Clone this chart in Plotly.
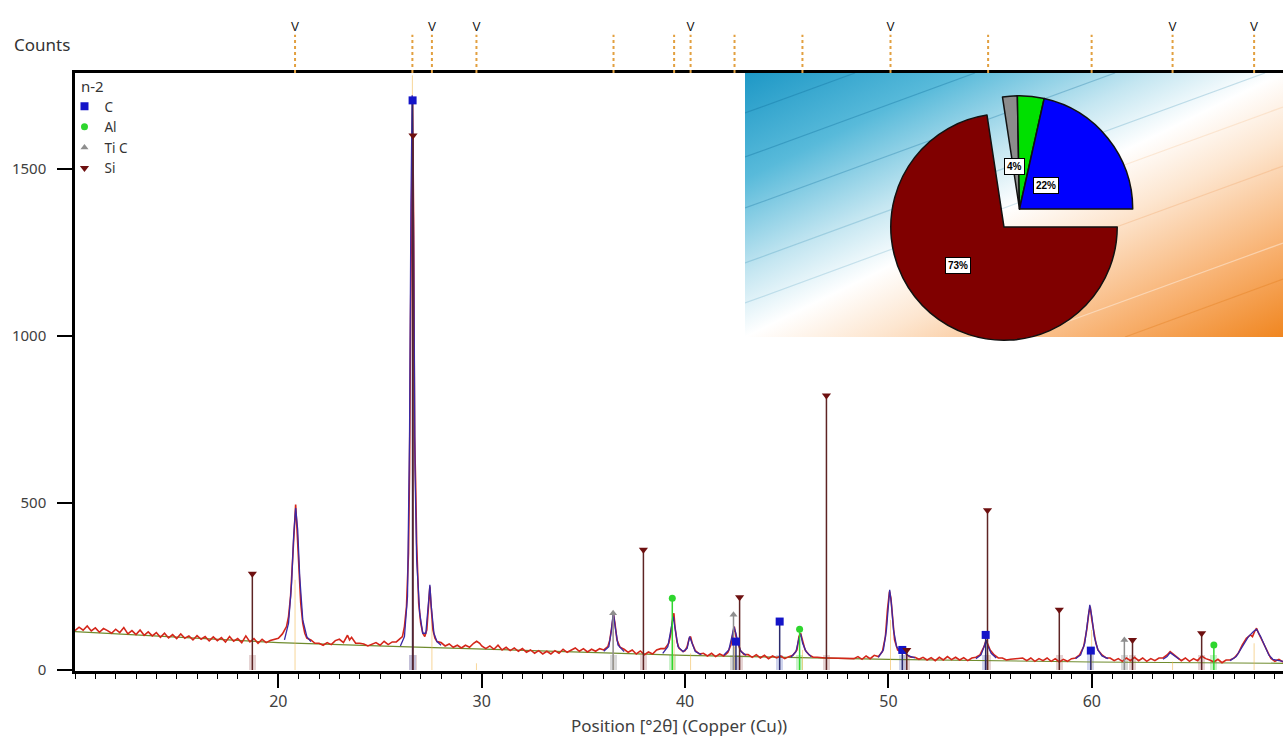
import base64
import math
import plotly.graph_objects as go

# ---------------- data ----------------
meas_pos = [10.0,10.2,10.4,10.6,10.8,11.0,11.2,11.4,11.6,11.8,12.0,12.2,12.4,12.6,12.8,13.0,13.2,13.4,13.6,13.8,
            14.0,14.2,14.4,14.6,14.8,15.0,15.2,15.4,15.6,15.8,16.0,16.2,16.4,16.6,16.8,17.0,17.2,17.4,17.6,17.8,
            18.0,18.2,18.4,18.6,18.8,19.0,19.2,19.4,19.6,19.8,20.0,20.2,20.4,20.5,20.6,20.7,20.8,20.85,20.9,21.0,
            21.1,21.2,21.3,21.4,21.6,21.8,22.0,22.2,22.4,22.6,22.8,23.0,23.2,23.4,23.5,23.6,23.8,24.0,24.2,24.4,
            24.6,24.8,25.0,25.2,25.4,25.6,25.8,26.0,26.1,26.2,26.3,26.4,26.45,26.5,26.55,26.6,26.65,26.7,26.75,26.8,
            26.9,27.0,27.1,27.2,27.3,27.4,27.45,27.5,27.6,27.7,27.8,28.0,28.2,28.4,28.6,28.8,29.0,29.2,29.4,29.6,
            29.75,29.9,30.0,30.2,30.4,30.6,30.8,31.0,31.2,31.4,31.6,31.8,32.0,32.2,32.4,32.6,32.8,33.0,33.2,33.4,
            33.6,33.8,34.0,34.2,34.4,34.6,34.8,35.0,35.2,35.4,35.6,35.8,36.0,36.2,36.3,36.4,36.48,36.55,36.65,36.8,
            37.0,37.2,37.4,37.6,37.8,38.0,38.2,38.4,38.6,38.8,39.0,39.2,39.3,39.4,39.45,39.5,39.6,39.7,39.9,40.0,
            40.1,40.2,40.27,40.35,40.5,40.7,40.9,41.1,41.3,41.5,41.7,41.9,42.1,42.25,42.35,42.42,42.5,42.6,42.7,42.9,
            43.1,43.3,43.5,43.7,43.9,44.1,44.3,44.5,44.7,44.9,45.1,45.3,45.5,45.6,45.68,45.8,45.9,46.1,46.3,46.5,
            46.7,46.9,47.1,47.3,47.5,47.7,47.9,48.1,48.3,48.5,48.7,48.9,49.1,49.3,49.5,49.7,49.85,49.95,50.05,50.12,
            50.2,50.3,50.45,50.6,50.75,50.9,51.1,51.3,51.5,51.7,51.9,52.1,52.3,52.5,52.7,52.9,53.1,53.3,53.5,53.7,
            53.9,54.1,54.3,54.5,54.7,54.8,54.9,55.0,55.2,55.4,55.6,55.8,56.0,56.2,56.4,56.6,56.8,57.0,57.2,57.4,
            57.6,57.8,58.0,58.2,58.4,58.6,58.8,59.0,59.2,59.4,59.6,59.75,59.85,59.92,60.0,60.1,60.2,60.3,60.5,60.7,
            60.9,61.1,61.3,61.5,61.7,61.9,62.1,62.3,62.5,62.7,62.9,63.1,63.3,63.5,63.7,63.85,64.0,64.2,64.4,64.6,
            64.8,65.0,65.2,65.4,65.6,65.8,66.0,66.2,66.4,66.6,66.8,67.0,67.2,67.4,67.6,67.8,67.9,68.0,68.1,68.2,
            68.4,68.6,68.8,69.0,69.2,69.4]
meas_counts = [118,128,119,132,117,126,113,124,118,110,122,112,127,108,118,106,120,104,114,102,
               112,98,110,96,106,94,108,95,102,90,103,92,100,87,99,88,97,84,100,86,
               94,82,102,84,94,80,92,82,88,92,95,108,130,160,220,330,470,495,440,320,
               200,140,110,95,90,80,80,74,82,76,88,92,82,104,90,98,80,80,78,72,
               78,82,74,86,76,84,84,94,100,130,190,350,600,1050,1500,1700,1350,700,560,380,
               200,140,110,100,120,200,250,200,120,95,85,82,72,78,68,74,66,74,68,80,
               86,80,72,64,72,62,74,60,68,58,66,56,64,53,60,50,58,48,56,48,
               58,50,62,53,60,66,56,64,54,62,56,64,60,70,90,140,165,140,90,68,
               62,53,60,48,57,46,54,48,60,64,64,80,110,160,170,130,85,65,55,58,
               70,95,100,80,58,48,50,42,50,40,48,42,52,75,115,130,100,85,60,46,
               46,38,46,36,44,34,42,36,42,34,40,44,60,100,110,80,60,45,38,38,
               36,36,36,36,34,34,34,35,34,40,32,42,34,44,40,55,100,180,235,215,
               150,90,60,55,58,45,38,38,32,38,30,37,28,38,30,40,31,38,30,37,
               28,36,38,45,70,90,75,60,45,36,36,30,32,34,34,36,28,36,26,34,
               28,36,26,34,24,32,26,34,36,45,70,120,170,190,150,110,80,60,45,36,
               36,28,34,26,36,28,38,28,36,26,34,28,36,36,45,55,48,36,28,36,
               26,34,28,42,34,30,24,32,22,30,30,36,50,75,95,105,100,115,125,110,
               85,55,35,26,32,24]

calc_pos = [20.3,20.5,20.65,20.75,20.85,20.95,21.05,21.2,21.4,21.6,None,
            26.0,26.2,26.35,26.45,26.52,26.58,26.65,26.72,26.8,26.95,27.1,27.25,27.38,27.45,27.52,27.65,27.8,28.0,None,
            36.0,36.25,36.38,36.47,36.56,36.7,37.0,None,
            38.9,39.15,39.3,39.42,39.52,39.65,39.9,40.1,40.22,40.32,40.5,40.8,None,
            41.9,42.15,42.3,42.4,42.5,42.6,42.75,43.0,None,
            45.2,45.45,45.6,45.68,45.78,45.95,46.2,None,
            49.5,49.75,49.9,50.0,50.06,50.14,50.25,50.4,50.6,50.8,51.0,51.3,None,
            54.3,54.55,54.7,54.8,54.9,55.05,55.3,None,
            59.2,59.45,59.65,59.8,59.9,60.0,60.12,60.3,60.5,60.8,None,
            63.5,63.7,63.85,64.0,64.3,None,
            66.8,67.1,67.4,67.7,67.95,68.1,68.3,68.5,68.7,68.9,69.2,69.4]
calc_counts = [90,140,260,400,485,420,280,150,100,85,None,
               72,100,220,700,1400,1720,1300,600,330,170,110,110,200,255,190,110,85,74,None,
               56,70,120,175,130,75,55,None,
               50,70,120,160,120,70,55,65,100,85,55,46,None,
               44,60,100,130,110,80,55,44,None,
               38,55,95,108,80,55,40,None,
               38,60,120,200,240,200,120,70,55,52,42,36,None,
               34,45,70,88,70,50,36,None,
               34,45,80,150,195,160,100,60,42,34,None,
               32,40,52,45,32,None,
               28,40,70,100,115,122,100,70,45,32,28,26]

bg_pos = [10.0, 20.0, 26.0, 30.0, 40.0, 50.0, 60.0, 69.4]
bg_counts = [115, 82, 70, 62, 44, 32, 24, 20]

# fitted peak list (top strip) and heights of fitted peaks
peak_pos = [20.82, 26.59, 27.55, 29.74, 36.48, 39.46, 40.27, 42.43, 45.77, 50.10, 54.90, 59.99, 63.97, 67.98]
peak_marked = [1, 0, 1, 1, 0, 0, 1, 0, 0, 1, 0, 0, 1, 1]
peak_heights = [270, 1780, 150, 20, 90, 90, 50, 70, 60, 150, 50, 120, 25, 80]

# reference patterns
c_pos = [26.6, 42.5, 44.65, 50.68, 54.78, 59.95]
c_int = [1705, 85, 145, 60, 105, 58]
al_pos = [39.37, 45.63, 66.0]
al_int = [215, 122, 75]
tic_pos = [36.46, 42.38, 61.6]
tic_int = [170, 165, 90]
si_pos = [18.72, 26.62, 37.95, 42.68, 46.95, 50.9, 54.87, 58.4, 62.0, 65.4]
si_int = [288, 1600, 360, 218, 822, 60, 478, 180, 90, 110]
band_height = 45

# pie (semi-quantitative)
pie_labels = ["Si", "Ti C", "Al", "C"]
pie_values = [72.6, 2.1, 3.8, 21.5]
pie_text = ["73%", "", "4%", "22%"]
pie_colors = ["#800000", "#8c8c8c", "#00e000", "#0000ff"]
pie_pull = [0.21, 0, 0, 0]

# ---------------- geometry ----------------
W, H = 1283, 742
ML, MR, MT, MB = 75, 0, 20, 71
PW, PH = W - ML - MR, H - MT - MB
main_top = 0.9186

fig = go.Figure()

# reference bands at base
for pos, col in [(si_pos, "rgba(200,160,160,0.45)"), (c_pos, "rgba(160,170,220,0.5)"),
                 (al_pos, "rgba(160,230,160,0.55)"), (tic_pos, "rgba(185,185,185,0.55)")]:
    fig.add_trace(go.Bar(x=pos, y=[band_height] * len(pos), width=0.35, marker=dict(color=col, line=dict(width=0)),
                         showlegend=False, hoverinfo="skip"))

# background
fig.add_trace(go.Scatter(x=bg_pos, y=bg_counts, mode="lines", line=dict(color="#6f8c2e", width=1.2),
                         showlegend=False, hoverinfo="skip"))
# orange fitted-peak sticks
sx, sy = [], []
for p, h in zip(peak_pos, peak_heights):
    sx += [p, p, None]
    sy += [0, h, None]
fig.add_trace(go.Scatter(x=sx, y=sy, mode="lines", line=dict(color="rgba(240,180,70,0.55)", width=1),
                         showlegend=False, hoverinfo="skip"))
# measured
fig.add_trace(go.Scatter(x=meas_pos, y=meas_counts, mode="lines", line=dict(color="#d4261a", width=1.6),
                         showlegend=False, name="measured"))
# calculated profile
fig.add_trace(go.Scatter(x=calc_pos, y=calc_counts, mode="lines", line=dict(color="#3b28a4", width=1.3),
                         showlegend=False, connectgaps=False, name="calculated"))

phases = [
    ("C", c_pos, c_int, "#1414c8", "#2a2a6e", "square", 8),
    ("Al", al_pos, al_int, "#2ed62e", "#2ed62e", "circle", 7),
    ("Ti C", tic_pos, tic_int, "#8e8e8e", "#8e8e8e", "triangle-up", 7),
    ("Si", si_pos, si_int, "#6e1010", "#5e2424", "triangle-down", 8),
]
for name, pos, inten, mcol, lcol, sym, size in phases:
    xs, ys = [], []
    for p, v in zip(pos, inten):
        xs += [p, p, None]
        ys += [0, v, None]
    fig.add_trace(go.Scatter(x=xs, y=ys, mode="lines", line=dict(color=lcol, width=1.5),
                             showlegend=False, hoverinfo="skip"))
for name, pos, inten, mcol, lcol, sym, size in phases:
    fig.add_trace(go.Scatter(x=pos, y=inten, mode="markers", name=name,
                             marker=dict(symbol=sym, color=mcol, size=size)))

# top strip: peak list
tx, ty = [], []
for p in peak_pos:
    tx += [p, p, None]
    ty += [0, 0.72, None]
fig.add_trace(go.Scatter(x=tx, y=ty, mode="lines", yaxis="y2",
                         line=dict(color="#e2a040", width=2, dash="dot"), showlegend=False, hoverinfo="skip"))
vx = [p for p, f in zip(peak_pos, peak_marked) if f]
fig.add_trace(go.Scatter(x=vx, y=[0.84] * len(vx), mode="text", text=["V"] * len(vx), yaxis="y2",
                         textfont=dict(size=12, color="#111111", family="Liberation Sans"),
                         showlegend=False, hoverinfo="skip"))

# pie inset
pie_cx_px, pie_cy_px, pie_box = 1019.5, 209.0, 274.0
dom_x = [(pie_cx_px - pie_box / 2 - ML) / PW, (pie_cx_px + pie_box / 2 - ML) / PW]
dom_y = [1 - (pie_cy_px + pie_box / 2 - MT) / PH, 1 - (pie_cy_px - pie_box / 2 - MT) / PH]
fig.add_trace(go.Pie(labels=pie_labels, values=pie_values, sort=False, direction="clockwise", rotation=90,
                     pull=pie_pull, textinfo="none", showlegend=False,
                     marker=dict(colors=pie_colors, line=dict(color="#111111", width=1.5)),
                     domain=dict(x=dom_x, y=dom_y)))

# pie labels (white boxes), positioned from the slice angles
r = pie_box / (2 * (1 + max(pie_pull)))
total = sum(pie_values)
cum = 0.0
annotations = []
for v, t, pl in zip(pie_values, pie_text, pie_pull):
    mid = math.radians(90 + 360 * (cum + v / 2) / total)
    cum += v
    if not t:
        continue
    d = (0.45 + pl) * r
    px = pie_cx_px + d * math.sin(mid)
    py = pie_cy_px - d * math.cos(mid)
    annotations.append(dict(x=(px - ML) / PW, y=1 - (py - MT) / PH, xref="paper", yref="paper", text="<b>%s</b>" % t,
                            showarrow=False, font=dict(size=10, color="black", family="Liberation Sans"),
                            bgcolor="white", bordercolor="black", borderwidth=1, borderpad=2))

annotations.append(dict(x=(42 - ML) / PW, y=1 - (45 - MT) / PH, xref="paper", yref="paper", text="Counts",
                        showarrow=False, font=dict(size=17, color="#333333"), xanchor="center", yanchor="middle"))
annotations.append(dict(x=(79 - ML) / PW, y=1 - (86 - MT) / PH, xref="paper", yref="paper", text="n-2",
                        showarrow=False, font=dict(size=15, color="#333333"), xanchor="left", yanchor="middle"))

# gradient background for the inset (svg image)
svg = """<svg xmlns="http://www.w3.org/2000/svg" width="538" height="264" viewBox="0 0 538 264" preserveAspectRatio="none">
<defs><linearGradient id="g" x1="0" y1="0" x2="1" y2="1">
<stop offset="0" stop-color="#1e98c6"/>
<stop offset="0.2" stop-color="#58badA"/>
<stop offset="0.38" stop-color="#c4e6f1"/>
<stop offset="0.5" stop-color="#ffffff"/>
<stop offset="0.62" stop-color="#fde6d0"/>
<stop offset="0.82" stop-color="#f8b272"/>
<stop offset="1" stop-color="#f08620"/>
</linearGradient></defs>
<rect width="538" height="264" fill="url(#g)"/>
<g stroke-width="1.2" fill="none">
<line x1="0" y1="40" x2="110" y2="0" stroke="#0f6e9c" stroke-opacity="0.35"/>
<line x1="0" y1="84" x2="230" y2="0" stroke="#0f6e9c" stroke-opacity="0.35"/>
<line x1="0" y1="135" x2="370" y2="0" stroke="#0f6e9c" stroke-opacity="0.3"/>
<line x1="0" y1="190" x2="520" y2="0" stroke="#2a86b0" stroke-opacity="0.25"/>
<line x1="0" y1="230" x2="300" y2="120" stroke="#2a86b0" stroke-opacity="0.2"/>
<line x1="280" y1="264" x2="538" y2="170" stroke="#ffffff" stroke-opacity="0.4"/>
<line x1="380" y1="264" x2="538" y2="206" stroke="#e07818" stroke-opacity="0.35"/>
<line x1="300" y1="180" x2="538" y2="93" stroke="#f0a060" stroke-opacity="0.3"/>
<line x1="330" y1="110" x2="538" y2="34" stroke="#f4c090" stroke-opacity="0.3"/>
</g></svg>"""
img_src = "data:image/svg+xml;base64," + base64.b64encode(svg.encode()).decode()
inset_x0, inset_x1, inset_y0, inset_y1 = 745, 1283, 73, 337
images = [dict(source=img_src, xref="paper", yref="paper",
               x=(inset_x0 - ML) / PW, y=1 - (inset_y0 - MT) / PH,
               sizex=(inset_x1 - inset_x0) / PW, sizey=(inset_y1 - inset_y0) / PH,
               xanchor="left", yanchor="top", sizing="stretch", layer="below")]

fig.update_layout(
    width=W, height=H,
    margin=dict(l=ML, r=MR, t=MT, b=MB, autoexpand=False),
    paper_bgcolor="white", plot_bgcolor="rgba(0,0,0,0)",
    font=dict(family="Noto Sans, Open Sans, sans-serif", color="#404040", size=15),
    barmode="overlay", bargap=0,
    showlegend=True,
    legend=dict(x=-0.0087, y=1 - (91 - MT) / PH, xanchor="left", yanchor="top", bgcolor="rgba(0,0,0,0)",
                font=dict(size=13.5, color="#333333"), tracegroupgap=0, itemwidth=30),
    xaxis=dict(range=[10.0, 69.4], tickmode="array", tickvals=[20, 30, 40, 50, 60],
               ticks="outside", ticklen=14, tickwidth=1.5, tickcolor="black",
               minor=dict(dtick=1, tick0=0, ticks="outside", ticklen=5, tickcolor="black", tickwidth=1.2),
               showline=True, linecolor="black", linewidth=2.5, mirror=True, showgrid=False, zeroline=False,
               tickfont=dict(size=16, color="#404040"), automargin=False,
               title=dict(text="Position [°2θ] (Copper (Cu))", font=dict(size=17, color="#404040"), standoff=10),
               anchor="y"),
    yaxis=dict(domain=[0, main_top], range=[-3, 1787], tickmode="array", tickvals=[0, 500, 1000, 1500],
               ticks="outside", ticklen=15, tickwidth=1.5, tickcolor="black", automargin=False,
               ticklabelstandoff=8,
               showline=True, linecolor="black", linewidth=2.5, showgrid=False, zeroline=False,
               tickfont=dict(size=15, color="#404040")),
    yaxis2=dict(domain=[main_top, 1.0], range=[0, 1], visible=False, anchor="x"),
    annotations=annotations,
    images=images,
)

fig.write_html("out.html", config={"displayModeBar": False},
               post_script="document.body.style.margin='0';document.body.style.overflow='hidden';")
